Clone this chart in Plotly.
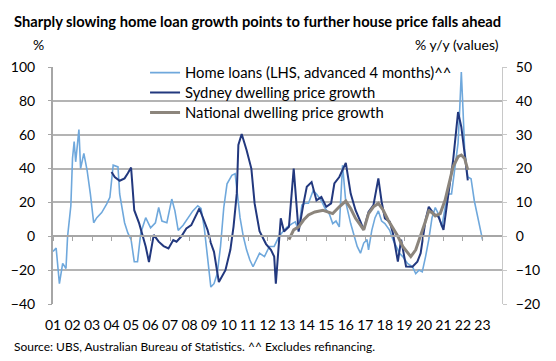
import plotly.graph_objects as go

# ---- data ----
loan_dates = ["2001-01","2001-03","2001-05","2001-07","2001-09","2001-10","2001-12","2002-01","2002-02","2002-03",
              "2002-05","2002-06","2002-08","2002-10","2002-12","2003-02","2003-04","2003-07","2003-10","2003-12",
              "2004-02","2004-05","2004-06","2004-09","2004-11","2005-01","2005-03","2005-05","2005-07","2005-10",
              "2006-01","2006-04","2006-06","2006-08","2006-11","2007-02","2007-04","2007-06","2007-09","2007-12",
              "2008-03","2008-06","2008-08","2008-10","2008-12","2009-02","2009-04","2009-06","2009-08","2009-10",
              "2009-12","2010-03","2010-05","2010-06","2010-08","2010-10","2010-12","2011-02","2011-04","2011-06",
              "2011-08","2011-11","2012-02","2012-05","2012-08","2012-11","2013-01","2013-04","2013-06","2013-08",
              "2013-10","2013-12","2014-02","2014-05","2014-07","2014-10","2014-12","2015-03","2015-05","2015-07",
              "2015-09","2015-11","2016-01","2016-04","2016-06","2016-08","2016-10","2016-12","2017-02","2017-03",
              "2017-05","2017-07","2017-09","2017-11","2018-01","2018-04","2018-06","2018-08","2018-10","2018-12",
              "2019-03","2019-06","2019-08","2019-10","2019-12","2020-02","2020-04","2020-06","2020-08","2020-10",
              "2020-12","2021-02","2021-04","2021-06","2021-08","2021-10","2021-11","2021-12","2022-01","2022-02",
              "2022-04","2022-06","2022-08","2022-10","2023-01"]
loan_values = [-9,-7,-28,-16,-19,0,18,46,56,44,
               63,40,49,39,25,8,11,14,19,23,
               42,41,25,8,2,-2,-15,-15,2,11,
               5,8,17,9,8,22,15,3.5,6.5,11,
               15,18,16.5,5,-12,-30,-28,-22,-6,17,
               31,36,37,29,11,0,-8,-14,-18,-14,
               -10,-12,-6,-6,0,3.5,5.5,7.5,8.5,3.5,
               18.5,19.5,19.5,27,25,21,17,13,7.5,9,
               5.5,42,20,7.5,0,-6,-10,-4,-2,-8,
               3.5,11,15,9,7.5,3.5,-2,-6,-10,-12,
               -16,-18,-22,-20,-21,-12,-2,11,17,13,
               5.5,17,25,25,39,55,75,97,75,51,
               35,34,21,11,-2]

syd_dates = ["2004-01","2004-03","2004-06","2004-09","2004-11","2005-01","2005-03","2005-06","2005-10","2005-12",
             "2006-03","2006-06","2006-09","2006-12","2007-03","2007-05","2007-08","2007-11","2008-02","2008-04",
             "2008-07","2008-09","2008-12","2009-02","2009-04","2009-07","2009-11","2010-02","2010-04","2010-06",
             "2010-07","2010-09","2010-12","2011-03","2011-05","2011-08","2011-12","2012-03","2012-05","2012-06",
             "2012-09","2012-11","2013-02","2013-05","2013-08","2013-11","2014-01","2014-04","2014-07","2014-10",
             "2015-01","2015-04","2015-06","2015-09","2016-01","2016-04","2016-07","2016-10","2016-12","2017-03",
             "2017-06","2017-09","2017-11","2018-01","2018-04","2018-06","2018-09","2018-11","2019-02","2019-06",
             "2019-09","2019-11","2020-02","2020-04","2020-07","2020-10","2021-01","2021-03","2021-05","2021-07",
             "2021-10","2021-12","2022-02","2022-04"]
syd_values = [19,17.5,16.4,17.1,18.6,20.3,7.7,3.8,-3,-7.6,
              0.4,-1.6,-2.9,-3.6,-1.1,-1.6,0,2.3,3.3,5.3,
              8.2,5.7,1.9,-2,-4.6,-13.5,-10,-4,2.8,12.6,
              27,30.2,25.5,20,9.7,1.5,-2.3,-4,-6,-14,
              5.3,1.4,2.8,20,1.4,9.7,14.6,16,10.6,11.6,
              8.7,9.7,15.6,17.5,21.7,12.6,7.7,4.3,1.9,7.2,
              9.2,17.1,10.2,5.3,4.3,0.9,-7.5,-1,-8.9,-9,
              -7.5,-5,4.8,8.7,6.7,5.7,1.9,8.7,15.6,22.5,
              36.7,32.3,24.4,16.5]

nat_dates = ["2013-02","2013-05","2013-08","2013-11","2014-02","2014-06","2014-11","2015-02","2015-05","2015-09",
             "2016-01","2016-04","2016-07","2016-10","2016-12","2017-03","2017-06","2017-09","2017-12","2018-03",
             "2018-06","2018-09","2018-12","2019-03","2019-05","2019-08","2019-11","2020-02","2020-04","2020-06",
             "2020-08","2020-11","2021-02","2021-04","2021-07","2021-10","2021-12","2022-02","2022-04"]
nat_values = [-1,1.9,2.8,4.8,6.3,7.2,7.7,7.2,6.7,8.7,
              10.4,8.2,5.3,3.3,1.9,6.7,8.7,9.7,7.7,4.8,
              2.3,0,-3,-5,-6,-4,0,4.5,7.5,7,
              6,6.7,10.7,14.6,20.6,23.5,24,23,19.6]

year_ticks = ["%d-01-01" % y for y in range(2001, 2024)]
year_labels = ["%02d" % (y % 100) for y in range(2001, 2024)]
left_ticks = [-40, -20, 0, 20, 40, 60, 80, 100]
right_ticks = [-20, -10, 0, 10, 20, 30, 40, 50]

FONT = "Lato"
GRID = "#B4B4B4"
AXIS = "#A6A6A6"
LEFT_RANGE = [-40, 100]
RIGHT_RANGE = [-20, 50]
X_RANGE = ["2001-01-01", "2024-01-01"]

# page body has an 8px margin: the figure is shrunk by that much so the plot
# area lands at x 53..502, y 67..304 of the window
W, H = 548, 353
ML, MT = 45, 59
PW, PH = 449, 237


def px(x):  # window pixel -> paper x
    return (x - 53) / PW


def py(y):  # window pixel -> paper y
    return (304 - y) / PH


fig = go.Figure()
fig.add_trace(go.Scatter(x=loan_dates, y=loan_values, mode="lines", name="Home loans (LHS, advanced 4 months)^^",
                         line=dict(color="#6FA8DC", width=1.6), yaxis="y", legend="legend"))
fig.add_trace(go.Scatter(x=syd_dates, y=syd_values, mode="lines", name="Sydney dwelling price growth",
                         line=dict(color="#22387E", width=2), yaxis="y2", legend="legend2"))
fig.add_trace(go.Scatter(x=nat_dates, y=nat_values, mode="lines", name="National dwelling price growth",
                         line=dict(color="#8C857C", width=3), yaxis="y2", legend="legend3"))

# invisible helper traces so the extra tick axes are drawn
fig.add_trace(go.Scatter(x=[year_ticks[0]], y=[0], xaxis="x2", yaxis="y3", mode="markers",
                         marker=dict(opacity=0), showlegend=False, hoverinfo="skip"))
fig.add_trace(go.Scatter(x=[year_ticks[0]], y=[0], xaxis="x2", yaxis="y4", mode="markers",
                         marker=dict(opacity=0), showlegend=False, hoverinfo="skip"))

legend_common = dict(xanchor="left", yanchor="middle", bgcolor="rgba(0,0,0,0)",
                     font=dict(family=FONT, size=14.8, color="#000000"))

fig.update_layout(
    width=W, height=H,
    margin=dict(l=ML, r=W - ML - PW, t=MT, b=H - MT - PH, autoexpand=False),
    paper_bgcolor="white", plot_bgcolor="white",
    font=dict(family=FONT, size=14, color="#000000"),
    showlegend=True,
    legend=dict(x=0.205, y=py(73), **legend_common),
    legend2=dict(x=0.205, y=py(93), **legend_common),
    legend3=dict(x=0.205, y=py(113), **legend_common),
    xaxis=dict(type="date", range=X_RANGE, tickvals=year_ticks, ticktext=year_labels,
               showgrid=False, showline=False, zeroline=False, ticks="", tickfont=dict(size=14),
               ticklabelstandoff=11, automargin=False),
    xaxis2=dict(type="date", range=X_RANGE, overlaying="x", anchor="free",
                position=-LEFT_RANGE[0] / (LEFT_RANGE[1] - LEFT_RANGE[0]), tickvals=year_ticks,
                showticklabels=False, showgrid=False, showline=True, linecolor=AXIS, linewidth=2,
                ticks="outside", ticklen=4, tickcolor=AXIS, tickwidth=1, side="bottom", automargin=False),
    yaxis=dict(range=LEFT_RANGE, tickvals=left_ticks, showgrid=True, gridcolor=GRID, gridwidth=2,
               zeroline=False, showline=True, linecolor=AXIS, linewidth=2, ticks="outside",
               ticklen=13, tickcolor="rgba(0,0,0,0)", tickfont=dict(size=14), automargin=False),
    yaxis3=dict(range=LEFT_RANGE, tickvals=left_ticks, overlaying="y", side="left", showgrid=False,
                zeroline=False, showline=False, showticklabels=False, ticks="outside", ticklen=4,
                tickcolor=AXIS, tickwidth=1, automargin=False),
    yaxis2=dict(range=RIGHT_RANGE, tickvals=right_ticks, overlaying="y", side="right", showgrid=False,
                zeroline=False, showline=True, linecolor="#C8C8C8", linewidth=1, ticks="outside",
                ticklen=10, tickcolor="rgba(0,0,0,0)", tickfont=dict(size=14), automargin=False),
    yaxis4=dict(range=RIGHT_RANGE, tickvals=right_ticks, overlaying="y", side="right", showgrid=False,
                zeroline=False, showline=False, showticklabels=False, ticks="outside", ticklen=4,
                tickcolor="#C8C8C8", tickwidth=1, automargin=False),
)

fig.add_annotation(text="<b>Sharply slowing home loan growth points to further house price falls ahead</b>",
                   xref="paper", yref="paper", x=px(12), y=py(21), xanchor="left", yanchor="middle",
                   showarrow=False, font=dict(family=FONT, size=14.7, color="#000000"))
fig.add_annotation(text="%", xref="paper", yref="paper", x=px(38), y=py(44),
                   xanchor="center", yanchor="middle", showarrow=False, font=dict(family=FONT, size=14))
fig.add_annotation(text="% y/y (values)", xref="paper", yref="paper", x=px(501), y=py(44),
                   xanchor="right", yanchor="middle", showarrow=False, font=dict(family=FONT, size=14))
fig.add_annotation(text="Source: UBS, Australian Bureau of Statistics. ^^ Excludes refinancing.",
                   xref="paper", yref="paper", x=px(12), y=py(346), xanchor="left", yanchor="middle",
                   showarrow=False, font=dict(family=FONT, size=12))

fig.write_html("out.html")
